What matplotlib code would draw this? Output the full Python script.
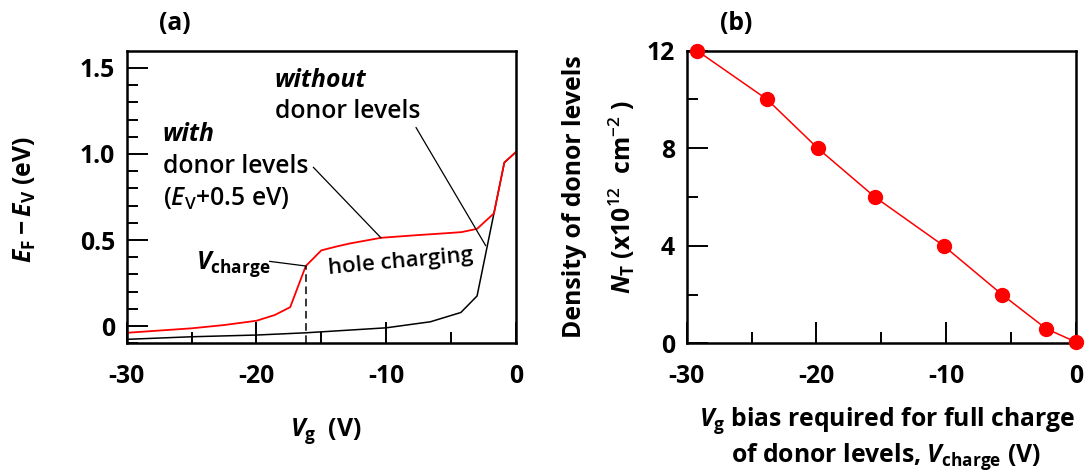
import matplotlib
matplotlib.use("Agg")
import matplotlib.pyplot as plt

# ---------------- data ----------------
# panel (a): Fermi level vs gate voltage
vg_with = [-30, -25, -22.5, -20, -18.6, -17.4, -16.2, -15.0, -13.8, -12.8, -10.4, -7.7, -5.1, -4.2, -3.0, -1.7, -0.9, 0]
ef_with = [-0.039, -0.013, 0.006, 0.031, 0.064, 0.11, 0.349, 0.44, 0.463, 0.48, 0.513, 0.528, 0.541, 0.546, 0.565, 0.655, 0.95, 1.012]
vg_without = [-30, -25, -20, -16.2, -10.0, -6.6, -4.25, -3.0, -1.7, -0.9, 0]
ef_without = [-0.077, -0.062, -0.052, -0.039, -0.010, 0.025, 0.079, 0.175, 0.655, 0.95, 1.012]
v_charge_mark = -16.15
ef_charge_mark = 0.349

# panel (b): density of donor levels vs V_charge
v_charge = [-29.2, -23.8, -19.9, -15.5, -10.2, -5.7, -2.3, 0.0]
n_t = [12, 10, 8, 6, 4, 2, 0.6, 0.05]

xticks = [-30, -20, -10, 0]
xtick_labels = ['-30', '-20', '-10', '0']
xminor = [-25, -15, -5]
a_yticks = [0, 0.5, 1.0, 1.5]
a_ytick_labels = ['0', '0.5', '1.0', '1.5']
a_yminor = [-0.1, 0.1, 0.2, 0.3, 0.4, 0.6, 0.7, 0.8, 0.9, 1.1, 1.2, 1.3, 1.4]
b_yticks = [0, 4, 8, 12]
b_ytick_labels = ['0', '4', '8', '12']
b_yminor = [2, 6, 10]

# ---------------- style ----------------
FONT = 'Open Sans'
plt.rcParams['font.family'] = [FONT, 'DejaVu Sans']
plt.rcParams['mathtext.fontset'] = 'custom'
plt.rcParams['mathtext.rm'] = FONT + ':bold'
plt.rcParams['mathtext.bf'] = FONT + ':bold'
plt.rcParams['mathtext.it'] = FONT + ':italic:bold'
plt.rcParams['mathtext.sf'] = FONT + ':italic:semibold'
plt.rcParams['mathtext.tt'] = FONT + ':semibold'
FS = 17.8
ANN_W = 'semibold'

W, H = 1086, 472
fig = plt.figure(figsize=(W / 100, H / 100), dpi=100)

def px(x, y):
    return x / W, 1 - y / H

axa = fig.add_axes([126.7 / W, 1 - 343.3 / H, 389.3 / W, 292.6 / H])
axb = fig.add_axes([686.7 / W, 1 - 343.3 / H, 389.3 / W, 292.6 / H])

for ax in (axa, axb):
    for s in ax.spines.values():
        s.set_linewidth(1.8)
    ax.tick_params(which='both', direction='in', width=1.4, top=False, right=False)
    ax.tick_params(which='major', length=15, labelsize=FS)
    ax.tick_params(which='minor', length=8)
    ax.tick_params(axis='x', which='major', pad=15)
    ax.tick_params(axis='y', which='major', pad=8.5)
    ax.set_xlim(-30, 0)
    ax.set_xticks(xticks, labels=xtick_labels)
    ax.set_xticks(xminor, minor=True)

# ---------------- panel (a) ----------------
axa.set_ylim(-0.1, 1.6)
axa.set_yticks(a_yticks, labels=a_ytick_labels)
axa.set_yticks(a_yminor, minor=True)

axa.plot(vg_without, ef_without, color='black', lw=1.1)
axa.plot(vg_with, ef_with, color='red', lw=1.3)
axa.plot([v_charge_mark, v_charge_mark], [-0.1, ef_charge_mark], color='black', lw=1.1,
         ls=(0, (5, 3)))

axa.text(-18.58, 1.429, 'without', fontsize=FS, fontweight='bold', style='italic',
         ha='left', va='center')
axa.text(-18.58, 1.249, 'donor levels', fontsize=FS, fontweight=ANN_W, ha='left', va='center')
axa.text(-27.21, 1.114, 'with', fontsize=FS, fontweight='bold', style='italic',
         ha='left', va='center')
axa.text(-27.21, 0.927, 'donor levels', fontsize=FS, fontweight=ANN_W, ha='left', va='center')
axa.text(-27.21, 0.738, r'($\mathsf{E}_{\mathtt{V}}$+0.5 eV)', fontsize=FS, fontweight=ANN_W,
         ha='left', va='center')
axa.text(-24.69, 0.334, r'$V_\mathrm{charge}$', fontsize=FS, ha='left', va='baseline')
axa.text(-14.47, 0.305, 'hole charging', fontsize=16, fontweight=ANN_W, ha='left',
         va='baseline', rotation=5.2, rotation_mode='anchor')

axa.plot([-7.70, -2.34], [1.153, 0.468], color='black', lw=0.9)
axa.plot([-15.61, -10.41], [0.922, 0.513], color='black', lw=0.9)
axa.plot([-18.98, -16.19], [0.376, 0.349], color='black', lw=0.9)

fig.text(*px(175, 23), '(a)', fontsize=FS, fontweight='bold', ha='center', va='center')
fig.text(*px(25, 200), r'$E_\mathrm{F} - E_\mathrm{V}$ (eV)', fontsize=FS,
         fontweight='bold', rotation=90, ha='center', va='center')
fig.text(*px(326, 431), r'$V_\mathrm{g}$  (V)', fontsize=FS, fontweight='bold',
         ha='center', va='center')

# ---------------- panel (b) ----------------
axb.set_ylim(0, 12)
axb.set_yticks(b_yticks, labels=b_ytick_labels)
axb.set_yticks(b_yminor, minor=True)
axb.plot(v_charge, n_t, color='red', lw=1.1, marker='o', markersize=10,
         markerfacecolor='red', markeredgecolor='red', clip_on=False, zorder=5)

for ax in (axa, axb):
    for lab in ax.get_xticklabels() + ax.get_yticklabels():
        lab.set_fontweight('bold')

fig.text(*px(736, 24), '(b)', fontsize=FS, fontweight='bold', ha='center', va='center')
fig.text(*px(574.6, 197), 'Density of donor levels', fontsize=FS, fontweight='bold',
         rotation=90, ha='center', va='center')
fig.text(*px(621.6, 197), r'$N_\mathrm{T}$ (x10$^{\mathtt{12}}$  cm$^{\mathtt{-2}}$ )',
         fontsize=FS, fontweight='bold', rotation=90, ha='center', va='center')
fig.text(*px(887, 421), r'$V_\mathrm{g}$ bias required for full charge', fontsize=FS,
         fontweight='bold', ha='center', va='center')
fig.text(*px(886, 472), r'of donor levels, $V_\mathrm{charge}$ (V)', fontsize=FS,
         fontweight='bold', ha='center', va='bottom')

fig.savefig('out.png', dpi=100)
